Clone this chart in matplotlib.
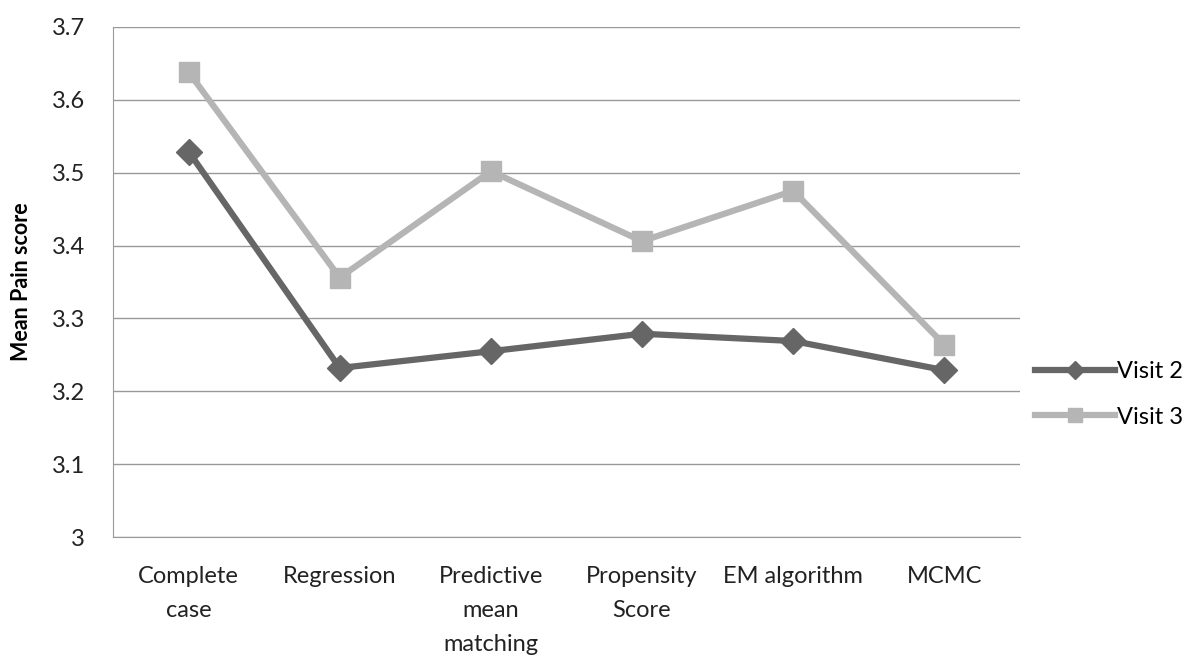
import matplotlib
matplotlib.use("Agg")
import matplotlib.pyplot as plt

plt.rcParams['font.family'] = ['Lato', 'DejaVu Sans']

# data
methods = ["Complete\ncase", "Regression", "Predictive\nmean\nmatching",
           "Propensity\nScore", "EM algorithm", "MCMC"]
visit2 = [3.529, 3.232, 3.255, 3.279, 3.269, 3.229]
visit3 = [3.638, 3.356, 3.502, 3.406, 3.475, 3.264]
yticks = [3, 3.1, 3.2, 3.3, 3.4, 3.5, 3.6, 3.7]

fig = plt.figure(figsize=(11.87, 6.55), dpi=100)
ax = fig.add_axes([0.0952, 0.180, 0.764, 0.779])

x = list(range(len(methods)))
ax.plot(x, visit2, color="#666666", lw=4.5, marker="D", markersize=13,
        label="Visit 2", zorder=3)
ax.plot(x, visit3, color="#b5b5b5", lw=4.5, marker="s", markersize=15,
        label="Visit 3", zorder=3)

ax.set_xlim(-0.5, 5.5)
ax.set_ylim(3, 3.7)
ax.set_yticks(yticks)
ax.set_yticklabels([f"{v:g}" for v in yticks], fontsize=17, color="#222222")
ax.set_xticks(x)
ax.set_xticklabels(methods, fontsize=17, linespacing=1.75, color="#222222")
ax.tick_params(axis="y", length=0, pad=20)
ax.tick_params(axis="x", length=0, pad=21)
ax.yaxis.grid(True, color="#999999", lw=1)
ax.set_axisbelow(True)
for s in ["top", "right"]:
    ax.spines[s].set_visible(False)
ax.spines["left"].set_color("#999999")
ax.spines["bottom"].set_color("#999999")

ax.set_ylabel("Mean Pain score", fontsize=15.5, fontweight="bold", labelpad=14)

ax.legend(loc="center left", bbox_to_anchor=(1.006, 0.28), frameon=False,
          fontsize=17, handlelength=3.4, labelspacing=1.05, handletextpad=0.1,
          borderaxespad=0, markerscale=0.7)

fig.savefig("out.png", dpi=100)
